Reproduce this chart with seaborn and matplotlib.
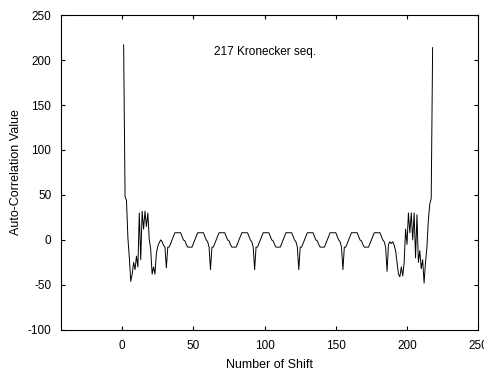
import numpy as np
import pandas as pd
import matplotlib
matplotlib.use("Agg")
import matplotlib.pyplot as plt
import seaborn as sns

# shift index 1..218 and the auto-correlation value
shifts = list(range(1, 219))
corr_values = [
    # 1-31: main peak and noisy start
    217, 48, 44, 2, -20, -46, -38, -25, -33, -18,
    -30, 30, -22, 32, 12, 32, 15, 30, 0, -10,
    -38, -30, -38, -15, -7, -3, 0, -2, -6, -8,
    -31,
    # 32-62
    -8, -8, -4, 0, 4, 8, 8, 8, 8, 8, 4, 0, -1, -5, -8,
    -8, -8, -8, -4, 0, 4, 8, 8, 8, 8, 8, 4, 0, -2, -8,
    -33,
    # 63-93
    -8, -8, -4, 0, 4, 8, 8, 8, 8, 8, 4, 0, -1, -5, -8,
    -8, -8, -8, -4, 0, 4, 8, 8, 8, 8, 8, 4, 0, -2, -8,
    -33,
    # 94-124
    -8, -8, -4, 0, 4, 8, 8, 8, 8, 8, 4, 0, -1, -5, -8,
    -8, -8, -8, -4, 0, 4, 8, 8, 8, 8, 8, 4, 0, -2, -8,
    -33,
    # 125-155
    -8, -8, -4, 0, 4, 8, 8, 8, 8, 8, 4, 0, -1, -5, -8,
    -8, -8, -8, -4, 0, 4, 8, 8, 8, 8, 8, 4, 0, -2, -8,
    -33,
    # 156-185
    -8, -8, -4, 0, 4, 8, 8, 8, 8, 8, 4, 0, -1, -5, -8,
    -8, -8, -8, -4, 0, 4, 8, 8, 8, 8, 8, 4, 0, -2, -8,
    # 186-218: noisy end and last peak
    -35, -5, -2, -4, -2, -6, -12, -25, -38, -41,
    -30, -40, -25, 12, -5, 30, 8, 30, 0, 30,
    -20, 28, -25, -12, -32, -22, -48, -25, -8, 22,
    40, 46, 214,
]

x_ticks = [0, 50, 100, 150, 200, 250]
y_ticks = [-100, -50, 0, 50, 100, 150, 200, 250]

df = pd.DataFrame({"shift": shifts, "value": corr_values})

sns.set_style("white")
plt.rcParams["font.family"] = ["Liberation Sans", "DejaVu Sans"]
plt.rcParams["text.color"] = "black"
plt.rcParams["axes.labelcolor"] = "black"
plt.rcParams["xtick.color"] = "black"
plt.rcParams["ytick.color"] = "black"
plt.rcParams["axes.unicode_minus"] = False

fig = plt.figure(figsize=(4.84, 3.77), dpi=100)
ax = fig.add_axes([0.126, 0.125, 0.862, 0.835])

sns.lineplot(data=df, x="shift", y="value", color="black", linewidth=0.7, ax=ax)

ax.set_xlim(-43, 250)
ax.set_ylim(-100, 250)
ax.set_xticks(x_ticks)
ax.set_yticks(y_ticks)
ax.tick_params(direction="in", bottom=True, left=True, top=True, right=True,
               length=3, width=0.8, labelsize=8.5, pad=7)
for sp in ax.spines.values():
    sp.set_color("black")
    sp.set_linewidth(0.8)

ax.text(100, 209, "217 Kronecker seq.", ha="center", va="center", fontsize=8.5)
ax.set_xlabel("Number of Shift", fontsize=9, labelpad=5)
ax.set_ylabel("Auto-Correlation Value", fontsize=9, labelpad=4)

fig.savefig("out.png", dpi=100)
